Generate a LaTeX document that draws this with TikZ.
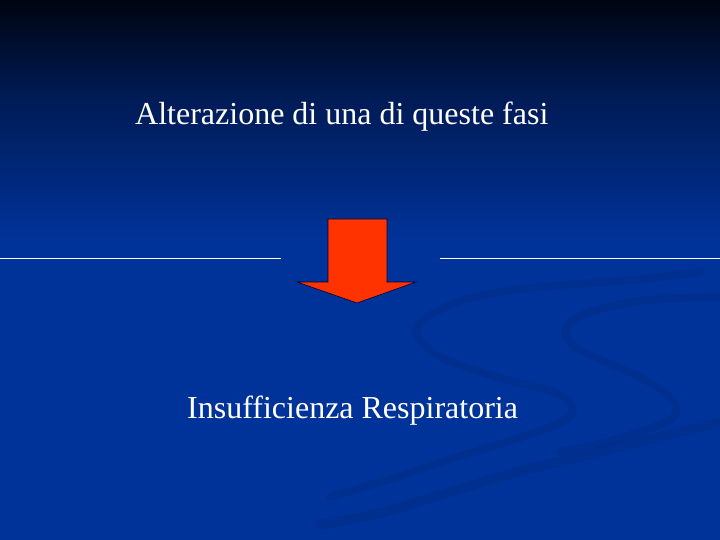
\documentclass[tikz,border=0pt]{standalone}
\usepackage{fontspec}
\setmainfont{Liberation Serif}
\definecolor{bgblue}{RGB}{0,51,153}
\definecolor{bgdark}{RGB}{0,4,16}
\definecolor{bgmid}{RGB}{0,26,84}
\definecolor{swoosh}{RGB}{0,36,120}
\definecolor{arrowred}{RGB}{255,51,0}
\tikzset{
  slidetext/.style={text=white, font=\fontsize{32}{38}\selectfont, inner sep=0pt, anchor=base west},
  rule/.style={draw=white, line width=0.9pt},
  swooshline/.style={draw=swoosh, line width=8pt, opacity=0.25, line cap=round},
  blockarrow/.style={fill=arrowred, draw=black!80!blue, line width=0.6pt, line join=miter}
}
\begin{document}
\begin{tikzpicture}[x=1pt,y=-1pt]
  \useasboundingbox (0,0) rectangle (720,540);
  \fill[bgblue] (0,0) rectangle (720,540);
  \shade[top color=bgdark, bottom color=bgmid] (0,0) rectangle (720,95);
  \shade[top color=bgmid, bottom color=bgblue] (0,95) rectangle (720,240);
  % decorative swooshes
  \draw[swooshline] plot[smooth] coordinates {(700,272) (633,280) (530,288) (463,300) (423,320) (417,335) (440,357) (497,377) (557,393) (573,410) (560,423) (513,440) (447,460) (397,477) (330,497)};
  \draw[swooshline] plot[smooth] coordinates {(720,297) (647,300) (587,313) (565,330) (580,350) (640,377) (673,400) (670,420) (613,440) (560,452)};
  \draw[swooshline, line width=10pt] plot[smooth] coordinates {(730,420) (647,440) (580,457) (513,473) (447,493) (380,513) (320,525)};
  % texts
  \node[slidetext] (top) at (135,125) {Alterazione di una di queste fasi};
  \node[slidetext] (bottom) at (187,418) {Insufficienza Respiratoria};
  % horizontal rules
  \coordinate (l1) at (0,258);
  \coordinate (l2) at (281,258);
  \coordinate (r1) at (440,258);
  \coordinate (r2) at (720,258);
  \draw[rule] (l1) -- (l2);
  \draw[rule] (r1) -- (r2);
  % block arrow
  \draw[blockarrow] (328,219) -- (387,219) -- (387,282) -- (416,282) -- (357,303) -- (297,282) -- (328,282) -- cycle;
\end{tikzpicture}
\end{document}
